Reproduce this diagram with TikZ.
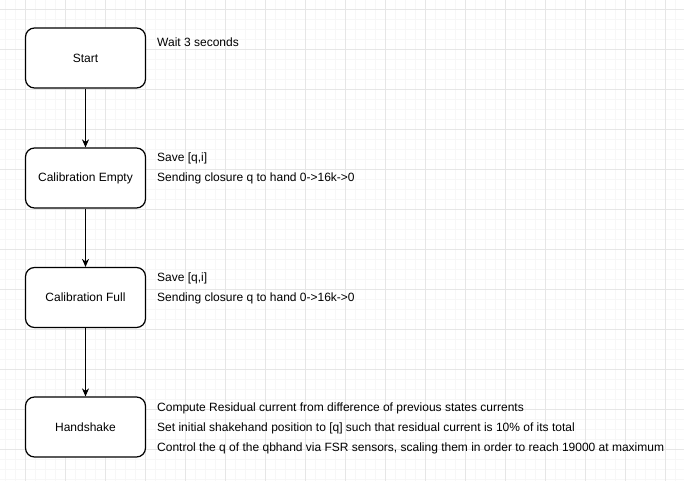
\documentclass[tikz,border=0pt]{standalone}
\usepackage{fontspec}
\setmainfont{Liberation Sans}
\usetikzlibrary{arrows.meta}
\definecolor{gridmajor}{HTML}{E6E6E6}
\definecolor{gridminor}{HTML}{F7F7F7}
\tikzset{
  statebox/.style={draw=black, line width=1.2pt, rounded corners=9pt, fill=white,
    minimum width=120pt, minimum height=60pt, inner sep=0pt,
    font=\fontsize{12}{14}\selectfont},
  note/.style={anchor=base west, inner sep=0pt, font=\fontsize{12}{14}\selectfont},
  flow/.style={draw=black, line width=1.2pt, -{Stealth[length=8pt,width=7pt]}}
}
\begin{document}
\begin{tikzpicture}[x=1pt,y=-1pt]
\useasboundingbox (0,0) rectangle (684,481);
\fill[white] (0,0) rectangle (684,481);
% grid
\foreach \x in {5,15,...,675} \draw[gridminor, line width=0.8pt] (\x,0) -- (\x,481);
\foreach \y in {9,19,...,479} \draw[gridminor, line width=0.8pt] (0,\y) -- (684,\y);
\foreach \x in {25,65,...,665} \draw[gridmajor, line width=0.8pt] (\x,0) -- (\x,481);
\foreach \y in {9,49,...,449} \draw[gridmajor, line width=0.8pt] (0,\y) -- (684,\y);
% states
\node[statebox] (start) at (85.5,58) {Start};
\node[statebox] (cale) at (85.5,178) {Calibration Empty};
\node[statebox] (calf) at (85.5,297.5) {Calibration Full};
\node[statebox] (hand) at (85.5,427) {Handshake};
% connectors
\draw[flow] (start) -- (cale);
\draw[flow] (cale) -- (calf);
\draw[flow] (calf) -- (hand);
% notes
\node[note] (n1) at (157,47) {Wait 3 seconds};
\node[note] (n2) at (157,161) {Save [q,i]};
\node[note] (n3) at (157,181) {Sending closure q to hand 0->16k->0};
\node[note] (n4) at (157,281) {Save [q,i]};
\node[note] (n5) at (157,301) {Sending closure q to hand 0->16k->0};
\node[note] (n6) at (157,411) {Compute Residual current from difference of previous states currents};
\node[note] (n7) at (157,431) {Set initial shakehand position to [q] such that residual current is 10\% of its total};
\node[note] (n8) at (157,451) {Control the q of the qbhand via FSR sensors, scaling them in order to reach 19000 at maximum};
\end{tikzpicture}
\end{document}
